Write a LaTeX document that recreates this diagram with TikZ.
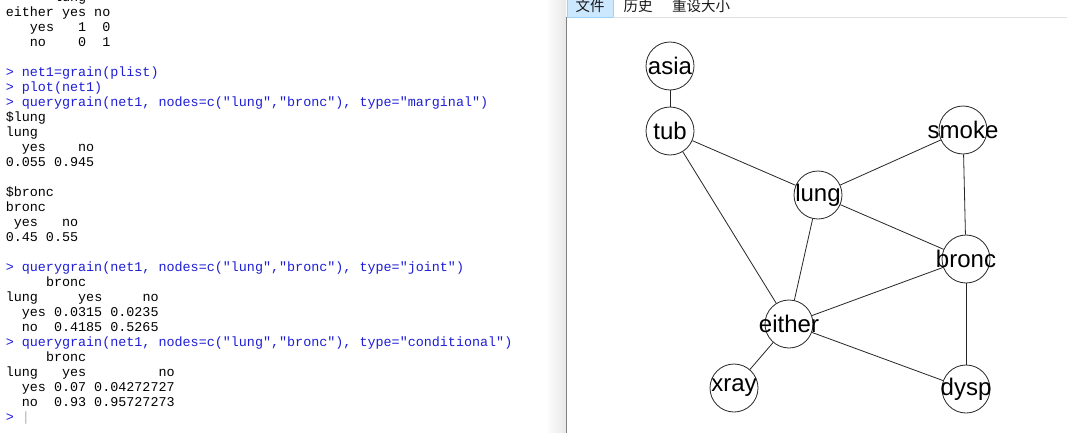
\documentclass[tikz,border=0pt]{standalone}
\usepackage{fontspec}
\usepackage{tikz}
\setmonofont{Liberation Mono}
\newfontfamily\plotfont{Liberation Sans}
\newfontfamily\cjkfont{Noto Sans CJK SC}
\definecolor{cmdblue}{RGB}{30,30,215}
\definecolor{menublue}{RGB}{204,232,255}
\definecolor{menuedge}{RGB}{153,209,255}
\newcommand\cmdline[1]{\textcolor{cmdblue}{#1}}

\begin{document}
\begin{tikzpicture}[x=1pt, y=-1pt,
    conline/.style = {anchor=base west, inner sep=0pt,
      font=\ttfamily\fontsize{13.4}{15}\selectfont},
    gnode/.style = {shape=circle, draw=black!85, line width=0.8pt,
      minimum size=48pt, inner sep=0pt,
      label={[font=\plotfont\fontsize{24}{24}\selectfont]center:#1}},
    menu/.style = {inner sep=0pt, text=black!90,
      font=\cjkfont\fontsize{14.5}{15}\selectfont}]
  \useasboundingbox (0,0) rectangle (1067,433);
  \clip (0,0) rectangle (1067,433);
  \fill[white] (0,0) rectangle (1067,433);

  % console pane
  \shade[left color=white, right color=black!9] (545,0) rectangle (566,433);
  \foreach \r/\t in {0/{~~~~~~lung}, 1/{either yes no}, 2/{~~~yes~~~1~~0},
      3/{~~~no~~~~0~~1},
      5/{\cmdline{> net1=grain(plist)}}, 6/{\cmdline{> plot(net1)}},
      7/{\cmdline{> querygrain(net1, nodes=c("lung","bronc"), type="marginal")}},
      8/{\$lung}, 9/{lung}, 10/{~~yes~~~~no}, 11/{0.055 0.945},
      13/{\$bronc}, 14/{bronc}, 15/{~yes~~~no}, 16/{0.45 0.55},
      18/{\cmdline{> querygrain(net1, nodes=c("lung","bronc"), type="joint")}},
      19/{~~~~~bronc}, 20/{lung~~~~~yes~~~~~no}, 21/{~~yes 0.0315 0.0235},
      22/{~~no~~0.4185 0.5265},
      23/{\cmdline{> querygrain(net1, nodes=c("lung","bronc"), type="conditional")}},
      24/{~~~~~bronc}, 25/{lung~~~yes~~~~~~~~~no}, 26/{~~yes 0.07 0.04272727},
      27/{~~no~~0.93 0.95727273}, 28/{\cmdline{>} \textcolor{black!30}{|}}}
    \node[conline] (con\r) at (5.6, 1.5+15*\r) {\t};

  % plot window
  \draw[fill=menublue, draw=menuedge] (567,-1) rectangle (613,17);
  \draw[black!12] (613,17.5) -- (1067,17.5);
  \draw[black!50, line width=1pt] (566.5,17) -- (566.5,433);
  \node[menu] (file)   at (590,6) {文件};
  \node[menu] (hist)   at (638,6) {历史};
  \node[menu] (resize) at (701,6) {重设大小};

  \node[gnode=asia]   (asia)   at (670,66)  {};
  \node[gnode=tub]    (tub)    at (670,131) {};
  \node[gnode=smoke]  (smoke)  at (963,130) {};
  \node[gnode=lung]   (lung)   at (818,195) {};
  \node[gnode=bronc]  (bronc)  at (966,259) {};
  \node[gnode=either] (either) at (789,324) {};
  \node[gnode=xray]   (xray)   at (734,388) {};
  \node[gnode=dysp]   (dysp)   at (966,389) {};

  \foreach \a/\b in {asia/tub, tub/lung, tub/either, lung/smoke, smoke/bronc,
      lung/bronc, lung/either, either/bronc, either/xray, either/dysp, bronc/dysp}
    \draw[black!85, line width=0.8pt] (\a) -- (\b);
\end{tikzpicture}
\end{document}
